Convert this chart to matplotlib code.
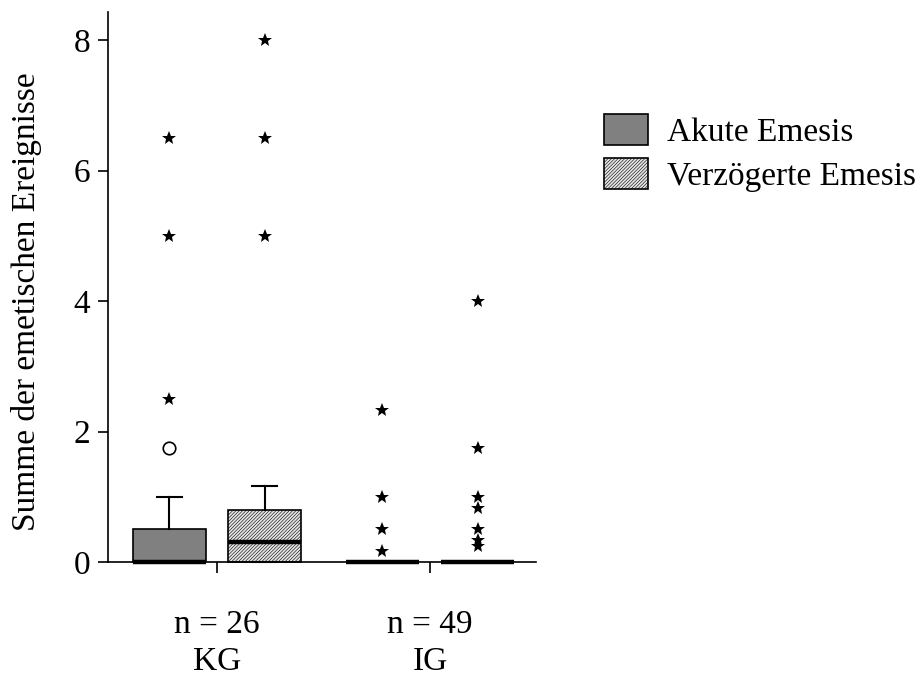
import matplotlib
matplotlib.use("Agg")
import matplotlib.pyplot as plt
from matplotlib.patches import Patch

plt.rcParams["font.family"] = ["Liberation Serif", "DejaVu Serif"]
plt.rcParams["hatch.linewidth"] = 0.4

# data
groups = ["KG", "IG"]
group_n = [26, 49]
series = ["Akute Emesis", "Verzögerte Emesis"]

# per box: KG acute, KG delayed, IG acute, IG delayed
q1 = [0.0, 0.0, 0.0, 0.0]
med = [0.0, 0.3, 0.0, 0.0]
q3 = [0.5, 0.8, 0.0, 0.0]
whis_lo = [0.0, 0.0, 0.0, 0.0]
whis_hi = [1.0, 1.17, 0.0, 0.0]
outliers = [[1.75], [], [], []]
extremes = [
    [2.5, 5.0, 6.5],
    [5.0, 6.5, 8.0],
    [0.17, 0.5, 1.0, 2.33],
    [0.25, 0.33, 0.5, 0.83, 1.0, 1.75, 4.0],
]

acute_color = "#808080"
delayed_color = "#e4e4e4"
hatch = "//////////"

fig = plt.figure(figsize=(9.2, 6.76), dpi=100)
ax = fig.add_axes([108 / 920, 1 - 562 / 676, 428 / 920, 550 / 676])

offset = 0.225
positions = []
for g in range(len(groups)):
    positions += [g + 1 - offset, g + 1 + offset]

stats = []
for i in range(4):
    stats.append(dict(med=med[i], q1=q1[i], q3=q3[i],
                      whislo=whis_lo[i], whishi=whis_hi[i], fliers=[]))

bp = ax.bxp(stats, positions=positions, widths=0.343, capwidths=0.117,
            patch_artist=True, showfliers=False,
            medianprops=dict(color="black", linewidth=3.2, solid_capstyle="butt"),
            whiskerprops=dict(color="black", linewidth=1.5),
            capprops=dict(color="black", linewidth=1.5),
            boxprops=dict(linewidth=1.2))

for i, box in enumerate(bp["boxes"]):
    if i % 2 == 0:
        box.set_facecolor(acute_color)
    else:
        box.set_facecolor(delayed_color)
        box.set_hatch(hatch)
    box.set_edgecolor("black")
    box.set_clip_on(False)
for key in ["medians", "whiskers", "caps"]:
    for art in bp[key]:
        art.set_clip_on(False)

for i in range(4):
    if outliers[i]:
        ax.plot([positions[i]] * len(outliers[i]), outliers[i], "o", ms=9,
                mfc="none", mec="black", mew=1.2, clip_on=False)
    if extremes[i]:
        ax.plot([positions[i]] * len(extremes[i]), extremes[i], "*", ms=10,
                color="black", mew=0, clip_on=False)

ax.set_xlim(0.488, 2.498)
ax.set_ylim(0, 8.43)
ax.set_yticks([0, 2, 4, 6, 8])
ax.set_xticks([1, 2])
ax.set_xticklabels([f"n = {n}\n{g}" for n, g in zip(group_n, groups)],
                   linespacing=1.3)
ax.tick_params(axis="both", labelsize=24, width=1.2, colors="black")
ax.tick_params(axis="x", length=8, pad=26)
ax.tick_params(axis="y", length=7, pad=6)

for side in ["top", "right"]:
    ax.spines[side].set_visible(False)
for side in ["left", "bottom"]:
    ax.spines[side].set_linewidth(1.2)

ax.set_ylabel("Summe der emetischen Ereignisse", fontsize=24)
ax.yaxis.set_label_coords(-0.155, 0.473)

handles = [
    Patch(facecolor=acute_color, edgecolor="black", linewidth=1.2),
    Patch(facecolor=delayed_color, edgecolor="black", linewidth=1.2, hatch=hatch),
]
fig.legend(handles, series, loc="upper left",
           bbox_to_anchor=(604 / 920, 1 - 114 / 676),
           frameon=False, fontsize=24, handlelength=1.33, handleheight=1.05,
           handletextpad=0.55, labelspacing=0.3, borderpad=0, borderaxespad=0)

fig.savefig("out.png", dpi=100)
